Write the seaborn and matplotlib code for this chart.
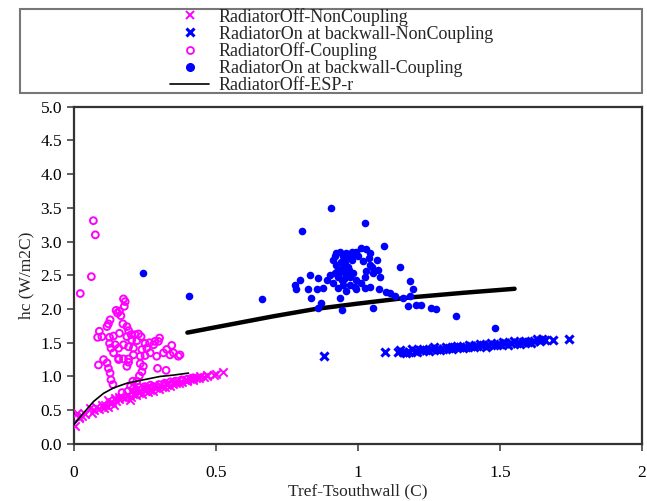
import matplotlib
matplotlib.use("Agg")
import matplotlib.pyplot as plt
from matplotlib.patches import Rectangle
from matplotlib.lines import Line2D
import seaborn as sns

# ── data ────────────────────────────────────────────────────────────────────
off_noncoup_x = [0.005, 0.013, 0.017, 0.02, 0.03, 0.04, 0.058, 0.064, 0.07, 0.08, 0.09,
                 0.099, 0.105, 0.11, 0.12, 0.122, 0.128, 0.135, 0.14, 0.146, 0.15, 0.158,
                 0.16, 0.17, 0.18, 0.187, 0.19, 0.199, 0.20, 0.204, 0.21, 0.22, 0.23,
                 0.234, 0.24, 0.25, 0.257, 0.26, 0.27, 0.28, 0.281, 0.29, 0.30, 0.304,
                 0.31, 0.32, 0.327, 0.33, 0.34, 0.35, 0.36, 0.363, 0.37, 0.38, 0.39,
                 0.398, 0.40, 0.41, 0.42, 0.421, 0.43, 0.44, 0.445, 0.46, 0.468, 0.47,
                 0.492, 0.50, 0.527]
off_noncoup_y = [0.26, 0.46, 0.38, 0.40, 0.42, 0.45, 0.53, 0.46, 0.50, 0.55, 0.52,
                 0.58, 0.53, 0.57, 0.55, 0.65, 0.60, 0.62, 0.58, 0.68, 0.63, 0.70,
                 0.66, 0.70, 0.68, 0.73, 0.72, 0.65, 0.70, 0.78, 0.74, 0.72, 0.76,
                 0.78, 0.74, 0.79, 0.83, 0.77, 0.80, 0.79, 0.85, 0.83, 0.81, 0.88,
                 0.85, 0.84, 0.90, 0.87, 0.86, 0.89, 0.90, 0.93, 0.91, 0.92, 0.94,
                 0.95, 0.93, 0.96, 0.95, 0.97, 0.98, 0.97, 1.01, 0.99, 1.02, 1.00,
                 1.02, 1.03, 1.06]

on_noncoup_x = [0.88, 1.095, 1.14, 1.16, 1.18, 1.20, 1.22, 1.24, 1.26, 1.28, 1.30, 1.32,
                1.34, 1.36, 1.38, 1.40, 1.42, 1.44, 1.46, 1.48, 1.50, 1.52, 1.54, 1.56,
                1.58, 1.60, 1.62, 1.64, 1.66, 1.15, 1.19, 1.23, 1.27, 1.31, 1.35, 1.39,
                1.43, 1.47, 1.51, 1.55, 1.59, 1.63, 1.65, 1.17, 1.21, 1.25, 1.29, 1.33,
                1.37, 1.41, 1.45, 1.49, 1.53, 1.57, 1.61, 1.687, 1.745]
on_noncoup_y = [1.31, 1.36, 1.36, 1.37, 1.37, 1.38, 1.39, 1.39, 1.40, 1.41, 1.41, 1.42,
                1.43, 1.43, 1.44, 1.45, 1.45, 1.46, 1.47, 1.47, 1.48, 1.49, 1.49, 1.50,
                1.51, 1.51, 1.52, 1.53, 1.54, 1.39, 1.40, 1.41, 1.43, 1.44, 1.45, 1.47,
                1.48, 1.49, 1.51, 1.52, 1.53, 1.55, 1.55, 1.35, 1.36, 1.38, 1.39, 1.40,
                1.42, 1.43, 1.44, 1.46, 1.47, 1.48, 1.50, 1.54, 1.56]

off_coup_x = [0.069, 0.076, 0.062, 0.023,
              0.175, 0.181, 0.178, 0.161, 0.149, 0.154, 0.166, 0.128, 0.122, 0.117,
              0.090, 0.084, 0.099, 0.126, 0.140, 0.161, 0.173, 0.187, 0.193, 0.202,
              0.216, 0.228, 0.237, 0.187, 0.204, 0.222, 0.251, 0.267, 0.286, 0.302,
              0.298, 0.281, 0.257, 0.240, 0.210, 0.193, 0.175, 0.158, 0.146, 0.126,
              0.131, 0.140, 0.158, 0.175, 0.193, 0.210, 0.234, 0.251, 0.269, 0.292,
              0.316, 0.327, 0.345, 0.351, 0.368, 0.374, 0.339, 0.105, 0.087, 0.117,
              0.122, 0.128, 0.131, 0.138, 0.158, 0.193, 0.187, 0.234, 0.245, 0.295,
              0.325, 0.240, 0.231, 0.222, 0.208,
              0.20, 0.21, 0.22, 0.23, 0.24, 0.25, 0.26, 0.27, 0.28, 0.30, 0.32,
              0.34, 0.36, 0.38, 0.40, 0.42, 0.19, 0.17]
off_coup_y = [3.31, 3.10, 2.48, 2.23,
              2.15, 2.11, 2.04, 1.97, 1.98, 1.94, 1.90, 1.84, 1.78, 1.74,
              1.67, 1.58, 1.59, 1.58, 1.60, 1.64, 1.78, 1.74, 1.68, 1.62,
              1.62, 1.63, 1.59, 1.59, 1.54, 1.53, 1.49, 1.50, 1.52, 1.57,
              1.52, 1.47, 1.42, 1.40, 1.42, 1.44, 1.47, 1.42, 1.47, 1.49,
              1.42, 1.35, 1.27, 1.26, 1.26, 1.32, 1.30, 1.31, 1.35, 1.30,
              1.35, 1.40, 1.46, 1.35, 1.30, 1.32, 1.32, 1.25, 1.17, 1.20,
              1.12, 1.05, 0.95, 0.88, 1.25, 1.21, 1.15, 1.19, 1.15, 1.12,
              1.09, 1.07, 1.01, 0.93, 0.93,
              0.86, 0.82, 0.80, 0.84, 0.81, 0.85, 0.83, 0.87, 0.85, 0.88, 0.90,
              0.92, 0.93, 0.95, 0.96, 0.98, 0.78, 0.76]

on_coup_x = [0.245, 0.404, 0.661, 0.802, 0.907, 1.025, 1.093, 1.148, 1.183, 1.347, 1.484,
             0.779, 0.796, 0.784, 0.825, 0.837, 0.831, 0.861, 0.857, 0.878, 0.890,
             0.902, 0.913, 0.931, 0.937, 0.960, 0.861, 0.872, 0.946, 0.992, 1.025,
             1.042, 1.052, 1.075, 1.101, 1.112, 1.130, 1.159, 1.177, 1.183, 1.194,
             1.206, 1.224, 1.259, 1.277, 0.913, 0.925, 0.937, 0.948, 0.960, 0.978,
             0.995, 1.013, 1.030, 1.042, 1.066, 1.071, 1.077, 1.054, 1.025, 1.013,
             0.995, 0.972, 0.954, 0.937, 0.925, 0.919, 0.943, 0.966, 0.954, 0.978,
             1.001, 1.019, 1.042, 1.030, 0.984, 0.931, 0.948, 0.972, 0.989,
             0.93, 0.94, 0.95, 0.96, 0.92, 0.93, 0.95, 0.97, 0.98, 1.04, 1.05]
on_coup_y = [2.53, 2.19, 2.15, 3.15, 3.50, 3.27, 2.94, 2.63, 2.42, 1.89, 1.72,
             2.36, 2.43, 2.29, 2.29, 2.16, 2.51, 2.46, 2.29, 2.31, 2.43,
             2.51, 2.38, 2.31, 2.16, 2.26, 2.01, 2.09, 1.98, 2.29, 2.31,
             2.33, 2.01, 2.29, 2.25, 2.24, 2.20, 2.16, 2.05, 2.19, 2.29,
             2.06, 2.06, 2.01, 2.00, 2.73, 2.83, 2.85, 2.78, 2.83, 2.85,
             2.85, 2.90, 2.89, 2.83, 2.73, 2.58, 2.48, 2.53, 2.48, 2.38,
             2.43, 2.48, 2.53, 2.58, 2.66, 2.53, 2.43, 2.63, 2.68, 2.73,
             2.78, 2.71, 2.66, 2.56, 2.53, 2.48, 2.36, 2.36, 2.33,
             2.60, 2.70, 2.62, 2.75, 2.78, 2.50, 2.45, 2.58, 2.78, 2.75, 2.62]

esp_off_x = [0.0, 0.009, 0.035, 0.070, 0.105, 0.140, 0.187, 0.245, 0.304, 0.351, 0.404]
esp_off_y = [0.28, 0.33, 0.46, 0.63, 0.75, 0.83, 0.90, 0.95, 1.00, 1.02, 1.05]

esp_on_x = [0.40, 0.55, 0.70, 0.85, 1.00, 1.18, 1.37, 1.552]
esp_on_y = [1.65, 1.77, 1.89, 2.00, 2.08, 2.17, 2.24, 2.30]

labels = ["RadiatorOff-NonCoupling", "RadiatorOn at backwall-NonCoupling",
          "RadiatorOff-Coupling", "RadiatorOn at backwall-Coupling", "RadiatorOff-ESP-r"]

x_ticks = [0, 0.5, 1, 1.5, 2]
x_tick_labels = ["0", "0.5", "1", "1.5", "2"]
y_ticks = [0.0, 0.5, 1.0, 1.5, 2.0, 2.5, 3.0, 3.5, 4.0, 4.5, 5.0]

MAGENTA = "#ff00ff"
BLUE = "#0000ff"

# ── figure ──────────────────────────────────────────────────────────────────
sns.set_style("white")
plt.rcParams["font.family"] = ["Liberation Serif", "DejaVu Serif"]

fig = plt.figure(figsize=(6.47, 5.01), dpi=100)
ax = fig.add_axes([0.114, 0.114, 0.878, 0.673])

sns.lineplot(x=esp_on_x, y=esp_on_y, ax=ax, color="black", lw=3.2,
             estimator=None, sort=False, zorder=2)
sns.lineplot(x=esp_off_x, y=esp_off_y, ax=ax, color="black", lw=1.2,
             estimator=None, sort=False, zorder=4)

sns.scatterplot(x=off_coup_x, y=off_coup_y, ax=ax, marker="o", s=24,
                facecolor="none", edgecolor=MAGENTA, linewidth=1.4, zorder=3)
sns.scatterplot(x=off_noncoup_x, y=off_noncoup_y, ax=ax, marker="x", s=36,
                color=MAGENTA, linewidth=1.4, zorder=3)
sns.scatterplot(x=on_coup_x, y=on_coup_y, ax=ax, marker="o", s=30,
                color=BLUE, edgecolor=BLUE, linewidth=0, zorder=3)
sns.scatterplot(x=on_noncoup_x, y=on_noncoup_y, ax=ax, marker="x", s=34,
                color=BLUE, linewidth=2.2, zorder=3)

ax.set_xlim(0, 2)
ax.set_ylim(0, 5)
ax.set_xticks(x_ticks)
ax.set_xticklabels(x_tick_labels)
ax.set_yticks(y_ticks)
ax.set_yticklabels([f"{v:.1f}" for v in y_ticks])
ax.tick_params(axis="both", direction="out", length=5, width=1.2,
               colors="#444444", labelcolor="black", labelsize=12.5,
               bottom=True, left=True)
ax.tick_params(axis="x", pad=10)
for sp in ax.spines.values():
    sp.set_color("#333333")
    sp.set_linewidth(1.6)
ax.set_xlabel("Tref-Tsouthwall (C)", fontsize=12.5, labelpad=2)
ax.set_ylabel("hc (W/m2C)", fontsize=12.5, labelpad=4)

# legend box across the top
box = (0.031, 0.814, 0.962, 0.168)
fig.patches.append(Rectangle(box[:2], box[2], box[3], transform=fig.transFigure,
                             facecolor="white", edgecolor="#777777", linewidth=1.5))
handles = [
    Line2D([], [], ls="none", marker="x", color=MAGENTA, markersize=6, mew=1.4),
    Line2D([], [], ls="none", marker="x", color=BLUE, markersize=6, mew=2.2),
    Line2D([], [], ls="none", marker="o", mfc="none", mec=MAGENTA, markersize=5, mew=1.3),
    Line2D([], [], ls="none", marker="o", color=BLUE, markersize=5.5),
    Line2D([], [], color="black", lw=1.2),
]
fig.legend(handles, labels, loc="center", bbox_to_anchor=box,
           frameon=False, fontsize=13, labelspacing=0, handlelength=2.2,
           handletextpad=0.5, borderpad=0)

fig.savefig("out.png", dpi=100)
